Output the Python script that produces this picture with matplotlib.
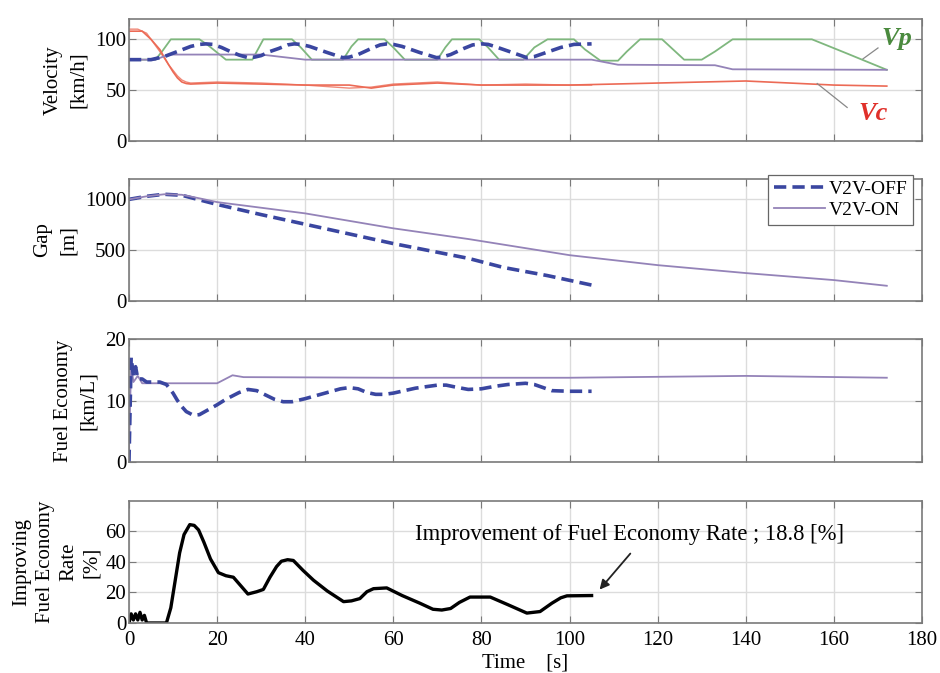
import matplotlib
matplotlib.use("Agg")
import matplotlib.pyplot as plt

plt.rcParams['font.family'] = ['Liberation Serif', 'DejaVu Serif']
plt.rcParams['mathtext.fontset'] = 'stix'

# ---------------- data ----------------
# Panel 1 : velocity [km/h]
vp_t = [0, 6, 7.5, 9.5, 16, 18, 22, 28, 29.5, 30.5, 37, 39, 41.5, 48.6, 50.5, 52, 58, 60,
        62.6, 70, 71.8, 73.3, 79.5, 81.5, 84, 89.5, 92, 95, 101, 103.5, 107, 111, 113, 116,
        121, 123.5, 126, 130, 133, 137, 155, 163, 172]
vp_v = [80, 80, 88, 100, 100, 94, 80, 80, 92, 100, 100, 92, 80, 80, 93, 100, 100, 92,
        80, 80, 92, 100, 100, 92, 80, 80, 92, 100, 100, 90, 79, 79, 88, 100,
        100, 90, 80, 80, 88, 100, 100, 86, 70]

off_t = [0, 5, 8, 11, 14, 16, 17.5, 19, 21, 23, 25, 27, 28.5, 30, 32, 34, 36, 37.5, 39, 41,
         43, 45, 48.5, 50, 52, 55, 57, 58.5, 60, 62, 64, 66, 69.8, 71, 73, 76, 78, 80, 81.5,
         83, 85, 87, 90.3, 92, 94, 98, 101, 105]
off_v = [80, 80, 83, 88, 93, 95, 95.5, 95, 92, 88, 84.5, 82, 82.5, 84, 88, 91, 94.5, 95.5,
         95, 93, 90, 87, 82, 82.5, 85, 91, 94.5, 95.5, 95, 93, 90, 87, 82, 82.5, 85, 91,
         94.5, 95.5, 95, 93, 90, 87, 82, 83, 86, 92, 95, 95.5]

on_t = [0, 6, 9, 30, 40, 105, 111, 133, 137, 172]
on_v = [80, 80, 85, 85, 80, 80, 75, 74.5, 70.5, 70]

vc1_t = [0, 3, 5, 7, 9, 10, 11, 12, 13, 14, 20, 30, 40, 50, 55, 60, 70, 80, 90, 100, 110,
         120, 130, 140, 150, 160, 172]
vc1_v = [108, 108, 100, 90, 75, 68, 62, 58, 56.5, 56, 57, 56, 55, 55, 52, 55, 57, 55, 55,
         55, 56, 57, 58, 59, 57, 55, 54]
vc2_t = [0, 2, 4, 5, 7, 9, 11, 12, 13, 14, 20, 30, 40, 50, 55, 60, 70, 80, 90, 100, 105]
vc2_v = [110, 110, 106, 100, 88, 75, 64, 60, 58, 57, 58, 57, 55, 52, 53, 56, 58, 55, 56,
         55, 55]

# Panel 2 : gap [m]
gap_off_t = [0, 4, 8, 12, 16, 20, 30, 40, 50, 60, 70, 77, 85, 95, 105]
gap_off_v = [1000, 1030, 1050, 1040, 995, 950, 850, 755, 660, 565, 480, 420, 330, 250, 157]
gap_on_t = [0, 4, 8, 12, 16, 20, 40, 60, 77, 100, 120, 140, 160, 172]
gap_on_v = [1000, 1030, 1050, 1045, 1010, 973, 862, 715, 610, 451, 353, 275, 206, 150]

# Panel 3 : fuel economy [km/L]
fe_off_t = [0, 0.5, 1, 1.5, 2, 3, 4, 7, 8.5, 10, 11, 12, 13, 14.6, 16, 18, 20, 22, 25, 27,
            29, 31, 33, 35, 37, 40, 45, 48, 50, 52, 54, 56, 58, 60, 65, 70, 72, 74, 77, 80,
            83, 86, 90, 92, 94, 96, 100, 105]
fe_off_v = [0, 17, 14, 15.5, 13.5, 13.5, 13, 13, 12.6, 11.2, 10, 9, 8.2, 7.6, 7.7, 8.5, 9.3,
            10.2, 11.3, 11.8, 11.6, 10.9, 10.2, 9.8, 9.8, 10.3, 11.3, 11.9, 12.1, 11.9, 11.3,
            11, 11, 11.2, 12, 12.5, 12.5, 12.2, 11.8, 11.9, 12.3, 12.6, 12.8, 12.6, 12.1,
            11.6, 11.5, 11.5]
fe_on_t = [0, 0.5, 1, 2, 3, 20, 23.5, 26, 60, 100, 140, 172]
fe_on_v = [2, 16, 13, 14, 12.8, 12.8, 14.1, 13.8, 13.7, 13.7, 14.0, 13.7]

# Panel 4 : improving fuel economy rate [%]
imp_t = [0, 0.5, 1, 1.5, 2, 2.5, 3, 3.5, 4, 8.5, 9.5, 10.5, 11.5, 12.5, 13.8, 14.8, 15.8,
         17, 18.5, 20.3, 22, 23.7, 25.5, 27, 29, 30.5, 32, 33.5, 34.6, 36, 37.3, 39.5, 41.9,
         45, 48.7, 50.5, 52.4, 54, 55.5, 58.5, 62, 66, 69, 71, 73, 75, 77.4, 82, 86, 90.3,
         93.3, 96, 98, 99.4, 105]
imp_v = [0, 6, 2, 6, 2, 7, 2, 5, 0, 0, 10, 28, 46, 58, 64.5, 64, 61, 53, 42, 33, 31, 30,
         24, 19, 20.5, 22, 30, 37, 40.5, 41.5, 41, 34.5, 28, 21, 14, 14.5, 16, 20.5, 22.5,
         23, 18, 13, 9, 8.5, 9.5, 13.5, 17, 17, 12, 6.5, 7.5, 13, 16.5, 17.8, 18]

x_ticks = [0, 20, 40, 60, 80, 100, 120, 140, 160, 180]
annot_text = "Improvement of Fuel Economy Rate ; 18.8 [%]"

# ---------------- styles ----------------
C_OFF = '#3a46a0'
C_ON = '#9483b8'
C_VP = '#7fb77e'
C_VC = '#ec6a55'
GRID = '#dcdcdc'
SPINE = '#7a7a7a'
dash = (0, (3.4, 1.7))

fig = plt.figure(figsize=(9.4, 6.73), dpi=100)
L, W = 0.1372, 0.8437
rects = [(L, 0.7905, W, 0.1813), (L, 0.5527, W, 0.1813),
         (L, 0.3135, W, 0.1828), (L, 0.0743, W, 0.1813)]
axes = [fig.add_axes(r) for r in rects]

for ax in axes:
    ax.set_xlim(0, 180)
    ax.set_xticks(x_ticks)
    ax.grid(True, color=GRID, lw=1.0)
    ax.set_axisbelow(True)
    ax.tick_params(direction='in', top=True, right=True, length=5, width=0.8,
                   color=SPINE, labelsize=15, pad=2)
    for s in ax.spines.values():
        s.set_color(SPINE)
        s.set_linewidth(1.2)
for ax in axes[:3]:
    ax.tick_params(labelbottom=False)

LBL = dict(fontsize=15, labelpad=5, linespacing=1.45)

# Panel 1
ax = axes[0]
ax.plot(vp_t, vp_v, color=C_VP, lw=1.3)
ax.plot(vc2_t, vc2_v, color=C_VC, lw=1.0, alpha=0.8)
ax.plot(vc1_t, vc1_v, color=C_VC, lw=1.2)
ax.plot(on_t, on_v, color=C_ON, lw=1.3)
ax.plot(off_t, off_v, color=C_OFF, lw=2.6, linestyle=dash)
ax.set_ylim(0, 120)
ax.set_yticks([0, 50, 100])
ax.set_ylabel("Velocity\n[km/h]", **LBL)
ax.text(174.3, 101, "Vp", color='#4a8a3e', fontsize=19, fontweight='bold',
        fontstyle='italic', ha='center', va='center')
ax.text(168.9, 27, "Vc", color='#e0302a', fontsize=19, fontweight='bold',
        fontstyle='italic', ha='center', va='center')
ax.plot([166.6, 170], [80.8, 91.5], color='#888888', lw=0.9)
ax.plot([156.2, 163], [56.5, 33], color='#888888', lw=0.9)

# Panel 2
ax = axes[1]
ax.plot(gap_off_t, gap_off_v, color=C_OFF, lw=2.6, linestyle=dash, label='V2V-OFF')
ax.plot(gap_on_t, gap_on_v, color=C_ON, lw=1.3, label='V2V-ON')
ax.set_ylim(0, 1200)
ax.set_yticks([0, 500, 1000])
ax.set_ylabel("Gap\n[m]", **LBL)
leg = ax.legend(loc='upper right', bbox_to_anchor=(0.9887, 1.035), borderaxespad=0,
                fontsize=14, frameon=True, fancybox=False, edgecolor='#666666',
                framealpha=1, handlelength=2.6, handletextpad=0.2, borderpad=0.3,
                labelspacing=0.15)
leg.get_frame().set_linewidth(0.9)
leg.set_zorder(5)

# Panel 3
ax = axes[2]
ax.plot(fe_on_t, fe_on_v, color=C_ON, lw=1.3)
ax.plot(fe_off_t, fe_off_v, color=C_OFF, lw=2.6, linestyle=dash)
ax.set_ylim(0, 20)
ax.set_yticks([0, 10, 20])
ax.set_ylabel("Fuel Economy\n[km/L]", **LBL)

# Panel 4
ax = axes[3]
ax.plot(imp_t, imp_v, color='black', lw=2.4)
ax.set_ylim(0, 80)
ax.set_yticks([0, 20, 40, 60])
ax.set_ylabel("Improving\nFuel Economy\nRate\n[%]", fontsize=15, labelpad=3, linespacing=1.3)
ax.tick_params(axis='x', pad=6)
ax.set_xlabel("Time    [s]", fontsize=15, labelpad=2)
ax.text(64.9, 58, annot_text, fontsize=16.3, ha='left', va='center')
ax.annotate("", xy=(106.4, 20.5), xytext=(114.2, 46.9),
            arrowprops=dict(arrowstyle='-|>', color='#222222', lw=1.3, mutation_scale=14))

fig.savefig("out.png", dpi=100)
